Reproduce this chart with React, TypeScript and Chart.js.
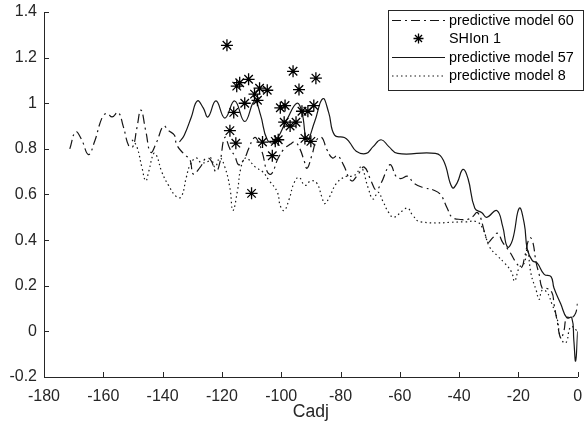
import React, { useEffect, useRef } from 'react';
import { Chart, registerables } from 'chart.js';

Chart.register(...registerables);

// ---------------- data ----------------
const xTickValues = [-180, -160, -140, -120, -100, -80, -60, -40, -20, 0];
const yTickValues = [-0.2, 0, 0.2, 0.4, 0.6, 0.8, 1, 1.2, 1.4];
const xAxisTitle = 'Cadj';
const seriesLabels = ['predictive model 60', 'SHIon 1', 'predictive model 57', 'predictive model 8'];

const model60X = [
  -171.3, -169.3, -167.3, -165, -163, -160.3, -158.7, -157, -155, -153.3, -151.3, -150, -148.7, -147.3, -145.7,
  -144, -142, -139.7, -138, -136, -135.3, -133, -130.7, -129.7, -127.3, -125.3, -123.7, -122, -120.7, -119,
  -117.3, -115.7, -114.3, -112.3, -111, -109, -107.7, -106.3, -104.7, -103.3, -101, -99, -97, -95.3, -93.7,
  -92.3, -91.3, -89.7, -88, -86.3, -84.7, -82.7, -81, -79, -76.3, -74, -72, -69.7, -68, -66.3, -64, -63,
  -61.3, -59.7, -57.3, -55.3, -52, -48.7, -46.3, -44, -42.3, -39, -37.3, -35.7, -33.7, -31.3, -30.3, -28.7,
  -27, -25.3, -23, -20.7, -19, -18, -16.3, -15.3, -14, -13, -12, -10.7, -8.7, -8, -7, -5.7, -4.7, -3.7, -2,
  -0.7, 0,
];
const model60Y = [
  0.8, 0.875, 0.84, 0.775, 0.83, 0.94, 0.955, 0.94, 0.96, 0.9, 0.81, 0.81, 0.89, 0.97, 0.88,
  0.785, 0.83, 0.9, 0.88, 0.86, 0.82, 0.78, 0.75, 0.69, 0.72, 0.76, 0.75, 0.7, 0.74, 0.85,
  0.8, 0.77, 0.73, 0.76, 0.8, 0.85, 0.83, 0.78, 0.7, 0.69, 0.76, 0.8, 0.82, 0.83, 0.8,
  0.75, 0.715, 0.77, 0.84, 0.85, 0.8, 0.76, 0.77, 0.73, 0.66, 0.69, 0.72, 0.66, 0.62, 0.65, 0.72, 0.73,
  0.68, 0.67, 0.68, 0.65, 0.63, 0.62, 0.6, 0.54, 0.5, 0.49, 0.49, 0.5, 0.52, 0.43, 0.39, 0.41,
  0.43, 0.39, 0.35, 0.3, 0.28, 0.32, 0.41, 0.4, 0.3, 0.25, 0.19, 0.19, 0.17, 0.12, 0.05, -0.03, 0.0, 0.06, 0.06,
  0.08, 0.13,
];

const shionX = [
  -118.3, -96, -88.3, -94, -111, -114, -115, -107.3, -104.7, -109, -108, -112.3, -100.3, -98.7, -116,
  -89, -93, -91, -99, -97, -95, -117.3, -115.3, -106.3, -102, -101, -92, -90, -103, -110,
];
const shionY = [
  1.254, 1.14, 1.11, 1.06, 1.105, 1.09, 1.075, 1.066, 1.057, 1.04, 1.013, 1.0, 0.98, 0.99, 0.96,
  0.99, 0.965, 0.965, 0.917, 0.9, 0.917, 0.88, 0.825, 0.83, 0.833, 0.84, 0.846, 0.833, 0.77, 0.605,
];

const model57X = [
  -134.3, -132.7, -130.3, -128.3, -126.3, -124.7, -122, -119, -115.7, -112.3, -109, -107, -104.7, -102.3,
  -98, -94.7, -93, -91.3, -88.7, -86, -84, -82, -78.7, -77, -74.7, -71.3, -69, -66.3, -63.7, -60.7, -48,
  -45.3, -42.3, -40.7, -38.7, -37, -34.7, -32.3, -30.7, -27.3, -25.3, -23.7, -22, -19.7, -18, -17, -15.3,
  -13.7, -11.3, -9, -8, -5.7, -3.7, -2, -1.3, -0.7, 0,
];
const model57Y = [
  0.83, 0.86, 0.94, 1.01, 0.98, 0.94, 1.01, 0.935, 1.01, 0.92, 1.01, 0.95, 0.84, 0.83,
  0.93, 1.0, 0.96, 0.84, 0.92, 1.02, 0.96, 0.86, 0.85, 0.83, 0.79, 0.78, 0.81, 0.84, 0.81, 0.78, 0.78,
  0.75, 0.63, 0.65, 0.71, 0.67, 0.54, 0.52, 0.5, 0.53, 0.46, 0.37, 0.4, 0.54, 0.47, 0.36, 0.31,
  0.3, 0.25, 0.24, 0.19, 0.12, 0.06, 0.06, -0.04, -0.13, 0.0,
];

const model8X = [
  -150.3, -148.7, -147, -145.7, -144.7, -143, -142, -140.3, -138, -135.3, -133.7, -132, -130.7, -128.7, -127,
  -124.7, -123.7, -122.3, -120.7, -119, -117.3, -116.3, -114.7, -113.7, -112, -108.7, -106.3, -104, -101.3,
  -100.3, -99, -97.3, -95.7, -94, -92, -90, -88, -86.3, -85.3, -83.7, -81.3, -78, -76.3, -74.7, -73, -70.7,
  -69, -67.3, -65.7, -63.7, -62, -59, -57.3, -55.7, -53, -38, -34, -32, -29.7, -27, -24.7, -22.3, -21.3,
  -19.7, -18, -17, -15.7, -14, -13, -12, -10.3, -8.7, -7, -5.7, -4, -2.3, 0,
];
const model8Y = [
  0.84, 0.81, 0.72, 0.66, 0.7, 0.78, 0.77, 0.7, 0.64, 0.59, 0.59, 0.675, 0.73, 0.76, 0.74,
  0.745, 0.76, 0.72, 0.76, 0.72, 0.63, 0.53, 0.62, 0.71, 0.76, 0.72, 0.7, 0.66, 0.61,
  0.55, 0.53, 0.58, 0.65, 0.675, 0.64, 0.66, 0.65, 0.59, 0.56, 0.59, 0.65, 0.68, 0.68, 0.69, 0.72, 0.63,
  0.58, 0.61, 0.57, 0.52, 0.5, 0.53, 0.54, 0.51, 0.48, 0.48, 0.48, 0.45, 0.37, 0.33, 0.3, 0.26, 0.22,
  0.28, 0.3, 0.36, 0.25, 0.18, 0.14, 0.18, 0.17, 0.12, 0.06, -0.03, -0.05, 0.02, 0.0,
];

// ---------------- styling ----------------
const FONT = "'Liberation Sans', Arial, Helvetica, sans-serif";
const AXIS_COLOR = '#262626';
const LINE_COLOR = '#161616';
const DASH_DOT = [9, 4, 2, 4];
const DOTTED = [1.5, 3];

const zip = (xs: number[], ys: number[]) => xs.map((x, i) => ({ x, y: ys[i] }));

const inwardTicks = {
  id: 'inwardTicks',
  afterDraw(chart: any) {
    const { ctx, chartArea, scales } = chart;
    const len = 5;
    ctx.save();
    ctx.strokeStyle = AXIS_COLOR;
    ctx.lineWidth = 1;
    scales.x.ticks.forEach((t: any) => {
      const px = Math.round(scales.x.getPixelForValue(t.value)) + 0.5;
      ctx.beginPath();
      ctx.moveTo(px, chartArea.bottom);
      ctx.lineTo(px, chartArea.bottom - len);
      ctx.stroke();
    });
    scales.y.ticks.forEach((t: any) => {
      const py = Math.round(scales.y.getPixelForValue(t.value)) + 0.5;
      ctx.beginPath();
      ctx.moveTo(chartArea.left, py);
      ctx.lineTo(chartArea.left + len, py);
      ctx.stroke();
    });
    ctx.restore();
  },
};

const boxLegend = {
  id: 'boxLegend',
  afterDraw(chart: any) {
    const { ctx } = chart;
    const left = 388.5, top = 10.5, width = 195, height = 80;
    const rowStart = 20, rowGap = 18.5;
    const lineX0 = 392, lineX1 = 445, textX = 449;
    ctx.save();
    ctx.fillStyle = '#ffffff';
    ctx.fillRect(left, top, width, height);
    ctx.strokeStyle = AXIS_COLOR;
    ctx.lineWidth = 1;
    ctx.strokeRect(left, top, width, height);
    chart.data.datasets.forEach((ds: any, i: number) => {
      const y = rowStart + i * rowGap;
      ctx.strokeStyle = ds.borderColor;
      ctx.lineWidth = ds.borderWidth;
      if (ds.showLine === false) {
        const cx = (lineX0 + lineX1) / 2;
        const r = 5;
        ctx.setLineDash([]);
        ctx.beginPath();
        for (let k = 0; k < 4; k++) {
          const a = (k * Math.PI) / 4;
          ctx.moveTo(cx - r * Math.cos(a), y - r * Math.sin(a));
          ctx.lineTo(cx + r * Math.cos(a), y + r * Math.sin(a));
        }
        ctx.stroke();
      } else {
        ctx.setLineDash(ds.borderDash || []);
        ctx.beginPath();
        ctx.moveTo(lineX0, y + 0.5);
        ctx.lineTo(lineX1, y + 0.5);
        ctx.stroke();
      }
      ctx.setLineDash([]);
      ctx.fillStyle = '#000000';
      ctx.font = `14.4px ${FONT}`;
      ctx.textBaseline = 'middle';
      ctx.textAlign = 'left';
      ctx.fillText(ds.label, textX, y + 1);
    });
    ctx.restore();
  },
};

export default function App() {
  const canvasRef = useRef<HTMLCanvasElement | null>(null);

  useEffect(() => {
    const canvas = canvasRef.current;
    if (!canvas) return;
    const lineBase = {
      type: 'line' as const,
      borderColor: LINE_COLOR,
      borderWidth: 1.2,
      pointRadius: 0,
      fill: false,
      tension: 0.45,
    };
    const chart = new Chart(canvas, {
      type: 'line',
      data: {
        datasets: [
          { ...lineBase, label: seriesLabels[0], data: zip(model60X, model60Y), borderDash: DASH_DOT },
          {
            type: 'line',
            label: seriesLabels[1],
            data: zip(shionX, shionY),
            showLine: false,
            pointStyle: 'star',
            pointRadius: 6,
            borderColor: '#000000',
            backgroundColor: 'rgba(0,0,0,0)',
            borderWidth: 1.3,
          },
          { ...lineBase, label: seriesLabels[2], data: zip(model57X, model57Y) },
          { ...lineBase, label: seriesLabels[3], data: zip(model8X, model8Y), borderDash: DOTTED },
        ] as any,
      },
      options: {
        animation: false,
        responsive: false,
        events: [],
        layout: { padding: { top: 12, right: 1, left: 0, bottom: 0 } },
        plugins: { legend: { display: false }, tooltip: { enabled: false } },
        scales: {
          x: {
            type: 'linear',
            min: -180,
            max: 0,
            afterBuildTicks: (s: any) => {
              s.ticks = xTickValues.map((v) => ({ value: v }));
            },
            afterFit: (s: any) => {
              s.height = 51;
              s.paddingLeft = 0;
              s.paddingRight = 0;
            },
            ticks: {
              autoSkip: false,
              maxRotation: 0,
              padding: 10,
              color: AXIS_COLOR,
              font: { family: FONT, size: 16 },
              callback: (v: any) => String(Math.round(Number(v))),
            },
            grid: { display: false, drawTicks: false },
            border: { display: true, color: AXIS_COLOR, width: 1 },
            title: {
              display: true,
              text: xAxisTitle,
              color: AXIS_COLOR,
              font: { family: FONT, size: 17.6 },
              padding: { top: 0, bottom: 5 },
            },
          },
          y: {
            type: 'linear',
            min: -0.2,
            max: 1.4,
            afterBuildTicks: (s: any) => {
              s.ticks = yTickValues.map((v) => ({ value: v }));
            },
            afterFit: (s: any) => {
              s.width = 44;
              s.paddingTop = 0;
              s.paddingBottom = 0;
            },
            ticks: {
              autoSkip: false,
              padding: 7,
              color: AXIS_COLOR,
              font: { family: FONT, size: 16 },
              callback: (v: any) => String(Math.round(Number(v) * 10) / 10),
            },
            grid: { display: false, drawTicks: false },
            border: { display: true, color: AXIS_COLOR, width: 1 },
          },
        },
      } as any,
      plugins: [inwardTicks, boxLegend],
    });
    return () => chart.destroy();
  }, []);

  return (
    <div style={{ position: 'fixed', left: 0, top: 0, width: 585, height: 428, background: '#fff' }}>
      <canvas ref={canvasRef} width={585} height={428} style={{ width: 585, height: 428, display: 'block' }} />
    </div>
  );
}
